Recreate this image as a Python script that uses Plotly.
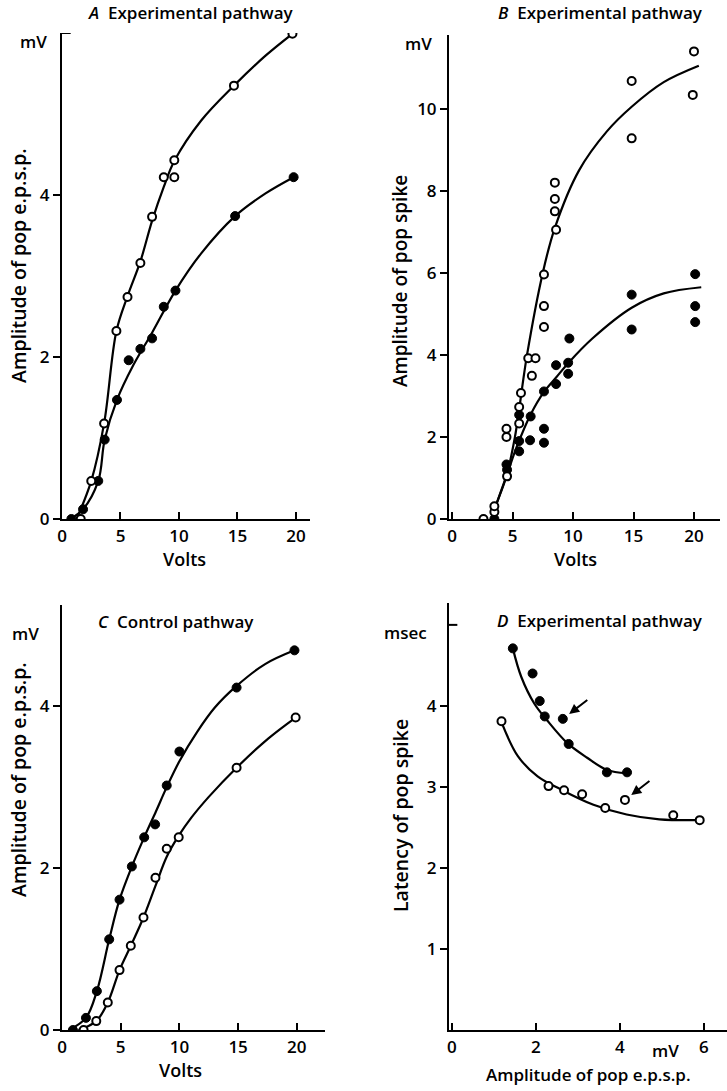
import plotly.graph_objects as go

FONT = "Open Sans"

# ---------------- Panel A: Experimental pathway, pop e.p.s.p. vs volts ----------------
A_open_volts = [1.6, 2.5, 3.6, 4.65, 5.6, 6.7, 7.7, 8.7, 9.6, 9.6, 14.7, 19.7]
A_open_mv = [0.0, 0.47, 1.18, 2.32, 2.74, 3.16, 3.73, 4.22, 4.22, 4.43, 5.35, 5.99]
A_filled_volts = [0.8, 1.8, 3.1, 3.65, 4.7, 5.7, 6.7, 7.7, 8.7, 9.7, 14.8, 19.8]
A_filled_mv = [0.0, 0.12, 0.47, 0.98, 1.47, 1.96, 2.10, 2.23, 2.62, 2.82, 3.74, 4.22]
A_open_fit_volts = [1.25, 2.5, 3.6, 4.65, 5.6, 6.7, 7.7, 8.7, 9.6, 11.9, 14.7, 17.4, 19.7]
A_open_fit_mv = [0.0, 0.47, 1.18, 2.32, 2.75, 3.18, 3.68, 4.10, 4.42, 4.92, 5.35, 5.72, 5.99]
A_filled_fit_volts = [0.7, 1.8, 3.1, 3.65, 4.7, 6.1, 7.7, 9.7, 11.9, 14.8, 17.4, 19.8]
A_filled_fit_mv = [0.0, 0.12, 0.47, 0.98, 1.47, 1.90, 2.30, 2.82, 3.28, 3.74, 4.02, 4.22]

# ---------------- Panel B: Experimental pathway, pop spike vs volts ----------------
B_open_volts = [2.6, 3.5, 3.5, 4.55, 4.5, 4.5, 5.55, 5.55, 5.7, 6.3, 6.6, 6.9, 7.6, 7.6, 7.6,
                8.6, 8.5, 8.5, 8.5, 14.85, 14.85, 19.9, 20.0]
B_open_mv = [0.0, 0.17, 0.31, 1.04, 2.0, 2.2, 2.33, 2.73, 3.07, 3.92, 3.49, 3.92, 4.68, 5.19, 5.96,
             7.05, 7.5, 7.8, 8.2, 9.28, 10.68, 10.34, 11.4]
B_filled_volts = [3.5, 4.5, 4.55, 5.55, 5.55, 5.55, 6.5, 6.45, 7.6, 7.6, 7.6, 8.6, 8.6,
                  9.6, 9.6, 9.7, 14.85, 14.85, 20.1, 20.1, 20.1]
B_filled_mv = [0.0, 1.33, 1.2, 1.65, 1.9, 2.54, 2.5, 1.92, 3.11, 2.2, 1.86, 3.75, 3.29,
               3.81, 3.54, 4.4, 5.47, 4.62, 5.97, 5.19, 4.8]
B_open_fit_volts = [3.3, 3.6, 4.5, 5.2, 6.2, 7.5, 8.5, 10.5, 12.8, 14.85, 17.5, 20.4]
B_open_fit_mv = [0.0, 0.3, 1.05, 2.0, 4.0, 6.0, 7.1, 8.5, 9.45, 10.05, 10.65, 11.05]
B_filled_fit_volts = [3.3, 3.6, 4.5, 5.4, 6.5, 7.6, 8.6, 9.6, 11.6, 14.85, 17.5, 20.6]
B_filled_fit_mv = [0.0, 0.3, 1.05, 1.8, 2.55, 3.1, 3.45, 3.8, 4.4, 5.15, 5.5, 5.65]

# ---------------- Panel C: Control pathway, pop e.p.s.p. vs volts ----------------
C_filled_volts = [0.93, 2.04, 2.97, 4.02, 4.9, 5.95, 7.0, 7.93, 8.92, 10.0, 14.87, 19.8]
C_filled_mv = [0.0, 0.15, 0.48, 1.12, 1.61, 2.02, 2.38, 2.54, 3.02, 3.44, 4.23, 4.69]
C_open_volts = [1.84, 2.92, 3.9, 4.9, 5.86, 6.94, 7.96, 8.92, 9.94, 14.87, 19.9]
C_open_mv = [0.0, 0.11, 0.34, 0.74, 1.04, 1.39, 1.88, 2.24, 2.38, 3.24, 3.86]
C_filled_fit_volts = [0.6, 2.04, 2.97, 4.02, 4.9, 5.95, 7.0, 8.0, 8.92, 10.0, 11.5, 13.0, 14.87, 17.3, 19.8]
C_filled_fit_mv = [0.0, 0.15, 0.48, 1.12, 1.61, 2.02, 2.38, 2.70, 3.00, 3.32, 3.68, 3.98, 4.25, 4.52, 4.69]
C_open_fit_volts = [1.4, 2.92, 3.9, 4.9, 5.86, 6.94, 7.96, 8.92, 9.94, 11.0, 12.5, 14.87, 17.56, 19.9]
C_open_fit_mv = [0.0, 0.11, 0.34, 0.74, 1.04, 1.39, 1.78, 2.14, 2.40, 2.62, 2.88, 3.24, 3.60, 3.86]

# ---------------- Panel D: Experimental pathway, latency vs e.p.s.p. ----------------
D_filled_epsp = [1.45, 1.92, 2.09, 2.21, 2.64, 2.78, 3.69, 4.17]
D_filled_msec = [4.71, 4.40, 4.06, 3.87, 3.84, 3.53, 3.18, 3.18]
D_open_epsp = [1.18, 2.30, 2.67, 3.10, 3.65, 4.12, 5.27, 5.90]
D_open_msec = [3.81, 3.01, 2.96, 2.91, 2.74, 2.84, 2.65, 2.59]
D_filled_fit_epsp = [1.45, 1.65, 1.96, 2.27, 2.75, 3.22, 3.69, 4.16]
D_filled_fit_msec = [4.71, 4.36, 4.03, 3.82, 3.54, 3.36, 3.21, 3.17]
D_open_fit_epsp = [1.18, 1.57, 2.04, 2.59, 3.37, 4.16, 4.94, 5.88]
D_open_fit_msec = [3.80, 3.38, 3.13, 2.97, 2.78, 2.66, 2.60, 2.59]
D_arrow_targets_epsp = [2.64, 4.12]
D_arrow_targets_msec = [3.84, 2.84]

fig = go.Figure()

def add_panel(xa, ya, fits, open_pts, filled_pts):
    for fx, fy in fits:
        fig.add_trace(go.Scatter(x=fx, y=fy, mode="lines", xaxis=xa, yaxis=ya,
                                 line=dict(color="black", width=2.2, shape="spline", smoothing=1.0),
                                 hoverinfo="skip"))
    fig.add_trace(go.Scatter(x=filled_pts[0], y=filled_pts[1], mode="markers", xaxis=xa, yaxis=ya,
                             marker=dict(color="black", size=9, line=dict(color="black", width=1))))
    fig.add_trace(go.Scatter(x=open_pts[0], y=open_pts[1], mode="markers", xaxis=xa, yaxis=ya,
                             marker=dict(color="white", size=8, line=dict(color="black", width=2))))

add_panel("x", "y", [(A_open_fit_volts, A_open_fit_mv), (A_filled_fit_volts, A_filled_fit_mv)],
          (A_open_volts, A_open_mv), (A_filled_volts, A_filled_mv))
add_panel("x2", "y2", [(B_open_fit_volts, B_open_fit_mv), (B_filled_fit_volts, B_filled_fit_mv)],
          (B_open_volts, B_open_mv), (B_filled_volts, B_filled_mv))
add_panel("x3", "y3", [(C_open_fit_volts, C_open_fit_mv), (C_filled_fit_volts, C_filled_fit_mv)],
          (C_open_volts, C_open_mv), (C_filled_volts, C_filled_mv))
add_panel("x4", "y4", [(D_open_fit_epsp, D_open_fit_msec), (D_filled_fit_epsp, D_filled_fit_msec)],
          (D_open_epsp, D_open_msec), (D_filled_epsp, D_filled_msec))

W, H = 727, 1091
def px(x):
    return x / W
def py(y):
    return 1 - y / H

tickfont = dict(family=FONT, size=17, color="black", weight=600)
common = dict(showline=True, linecolor="black", linewidth=2, showgrid=False, zeroline=False,
              tickcolor="black", tickwidth=2, ticklen=7, tickfont=tickfont, fixedrange=True,
              automargin=False)

fig.update_layout(
    template="none",
    width=W, height=H, margin=dict(l=0, r=0, t=0, b=0, autoexpand=False),
    paper_bgcolor="white", plot_bgcolor="white", showlegend=False,
    font=dict(family=FONT, color="black"),
    xaxis=dict(domain=[px(62), px(310)], range=[0, 21.2], anchor="y",
               tickvals=[0, 5, 10, 15, 20], ticks="inside", ticklabelstandoff=1, **common),
    yaxis=dict(domain=[py(519), py(33)], range=[0, 6], anchor="x",
               tickvals=[0, 2, 4], ticks="outside", **common),
    xaxis2=dict(domain=[px(449), px(720)], range=[-0.25, 22.15], anchor="y2",
                tickvals=[0, 5, 10, 15, 20], ticks="inside", ticklabelstandoff=1, **common),
    yaxis2=dict(domain=[py(519), py(35)], range=[0, 11.8], anchor="x2",
                tickvals=[0, 2, 4, 6, 8, 10], ticks="outside", **common),
    xaxis3=dict(domain=[px(62), px(325)], range=[0, 22.4], anchor="y3",
                tickvals=[0, 5, 10, 15, 20], ticks="inside", ticklabelstandoff=1, **common),
    yaxis3=dict(domain=[py(1030), py(605)], range=[0, 5.25], anchor="x3",
                tickvals=[0, 2, 4], ticks="outside", **common),
    xaxis4=dict(domain=[px(449), 1.0], range=[-0.07, 6.55], anchor="y4",
                tickvals=[0, 2, 4, 6], ticks="inside", ticklabelstandoff=1, **common),
    yaxis4=dict(domain=[py(1030), py(603)], range=[0, 5.27], anchor="x4",
                tickvals=[1, 2, 3, 4], ticks="outside", **common),
)

# inward ticks at the top of panels A and D
fig.add_shape(type="line", xref="x domain", yref="y", x0=0, x1=0.035, y0=6, y1=6,
              line=dict(color="black", width=2))
fig.add_shape(type="line", xref="x4 domain", yref="y4", x0=0, x1=0.03, y0=5, y1=5,
              line=dict(color="black", width=2))

ann = []
def text(x, y, t, size=17, angle=0, xanchor="center"):
    ann.append(dict(x=px(x), y=py(y), xref="paper", yref="paper", text=t, showarrow=False,
                    textangle=angle, xanchor=xanchor, yanchor="middle",
                    font=dict(family=FONT, size=size, color="black", weight=600)))

text(190, 13, "<i>A</i>  Experimental pathway", 17)
text(600, 13, "<i>B</i>  Experimental pathway", 17)
text(176, 621, "<i>C</i>  Control pathway", 17)
text(600, 620, "<i>D</i>  Experimental pathway", 17)
text(33, 42, "mV", 17)
text(418, 44, "mV", 17)
text(25, 633, "mV", 17)
text(405, 632, "msec", 17)
text(665, 1050, "mV", 17)
text(185, 559, "Volts", 18)
text(575, 559, "Volts", 18)
text(180, 1070, "Volts", 18)
text(588, 1074, "Amplitude of pop e.p.s.p.", 17)
text(18, 266, "Amplitude of pop e.p.s.p.", 19.5, -90)
text(400, 281, "Amplitude of pop spike", 19, -90)
text(18, 780, "Amplitude of pop e.p.s.p.", 19.5, -90)
text(400, 816, "Latency of pop spike", 19.5, -90)

# arrows in panel D pointing at two marked points
for ex, ey in zip(D_arrow_targets_epsp, D_arrow_targets_msec):
    ann.append(dict(x=ex, y=ey, xref="x4", yref="y4", text="", showarrow=True,
                    ax=26, ay=-20, axref="pixel", ayref="pixel", standoff=8,
                    arrowhead=2, arrowsize=1, arrowwidth=2, arrowcolor="black"))

fig.update_layout(annotations=ann)
fig.write_html("out.html", config={"displayModeBar": False, "staticPlot": True},
               post_script="document.body.style.margin='0';document.body.style.overflow='hidden';")
